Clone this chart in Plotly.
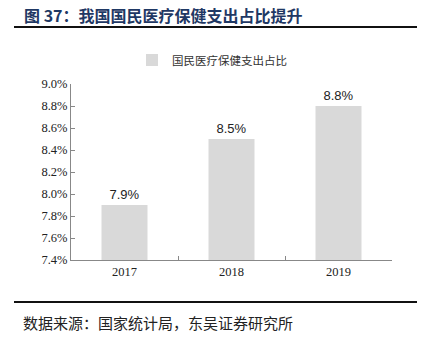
import plotly.graph_objects as go

years = ["2017", "2018", "2019"]
values = [7.9, 8.5, 8.8]
labels = ["7.9%", "8.5%", "8.8%"]
series_name = "国民医疗保健支出占比"
title_text = "图 37：我国国民医疗保健支出占比提升"
source_text = "数据来源：国家统计局，东吴证券研究所"

L, R, T, B = 71, 392, 84, 260
W, H = R - L, B - T
def px(x): return (x - L) / W
def py(y): return (B - y) / H

fig = go.Figure()
fig.add_trace(go.Bar(
    x=years, y=values, name=series_name, width=0.43,
    marker=dict(color="#d9d9d9", line=dict(width=0)),
    text=labels, textposition="outside", cliponaxis=False,
    textfont=dict(family="Liberation Sans, Arial", size=13, color="#222"),
))
fig.update_layout(
    width=427, height=348,
    margin=dict(l=L, r=427 - R, t=T, b=348 - B),
    paper_bgcolor="white", plot_bgcolor="white",
    showlegend=True,
    legend=dict(orientation="h", x=px(212), xanchor="center", y=py(60), yanchor="middle",
                font=dict(family="Noto Sans CJK SC", size=11.5, color="#333"),
                itemwidth=30, bgcolor="rgba(0,0,0,0)"),
    xaxis=dict(type="category", tickson="boundaries", ticks="inside", ticklen=4,
               tickcolor="#888", showline=True, linecolor="#888", linewidth=1,
               tickfont=dict(family="Liberation Serif, Times New Roman", size=12.5, color="#222"),
               showgrid=False),
    yaxis=dict(range=[7.4, 9.0], dtick=0.2, tick0=7.4, tickformat=".1f", ticksuffix="%",
               ticks="inside", ticklen=4, tickcolor="#888", showline=True, linecolor="#888",
               linewidth=1, showgrid=False, zeroline=False,
               tickfont=dict(family="Liberation Serif, Times New Roman", size=12.5, color="#222")),
)
fig.add_annotation(text=title_text, xref="paper", yref="paper", x=px(22), y=py(15),
                   xanchor="left", yanchor="middle", showarrow=False,
                   font=dict(family="Noto Sans CJK SC", size=16, color="#1f3864", weight="bold"))
fig.add_annotation(text=source_text, xref="paper", yref="paper", x=px(21), y=py(322),
                   xanchor="left", yanchor="middle", showarrow=False,
                   font=dict(family="Noto Sans CJK SC", size=15, color="#222"))
fig.add_shape(type="line", xref="paper", yref="paper", x0=px(14), x1=px(417),
              y0=py(27), y1=py(27), line=dict(color="#111", width=2))
fig.add_shape(type="line", xref="paper", yref="paper", x0=px(14), x1=px(417),
              y0=py(302), y1=py(302), line=dict(color="#111", width=2))
fig.write_html("out.html")
